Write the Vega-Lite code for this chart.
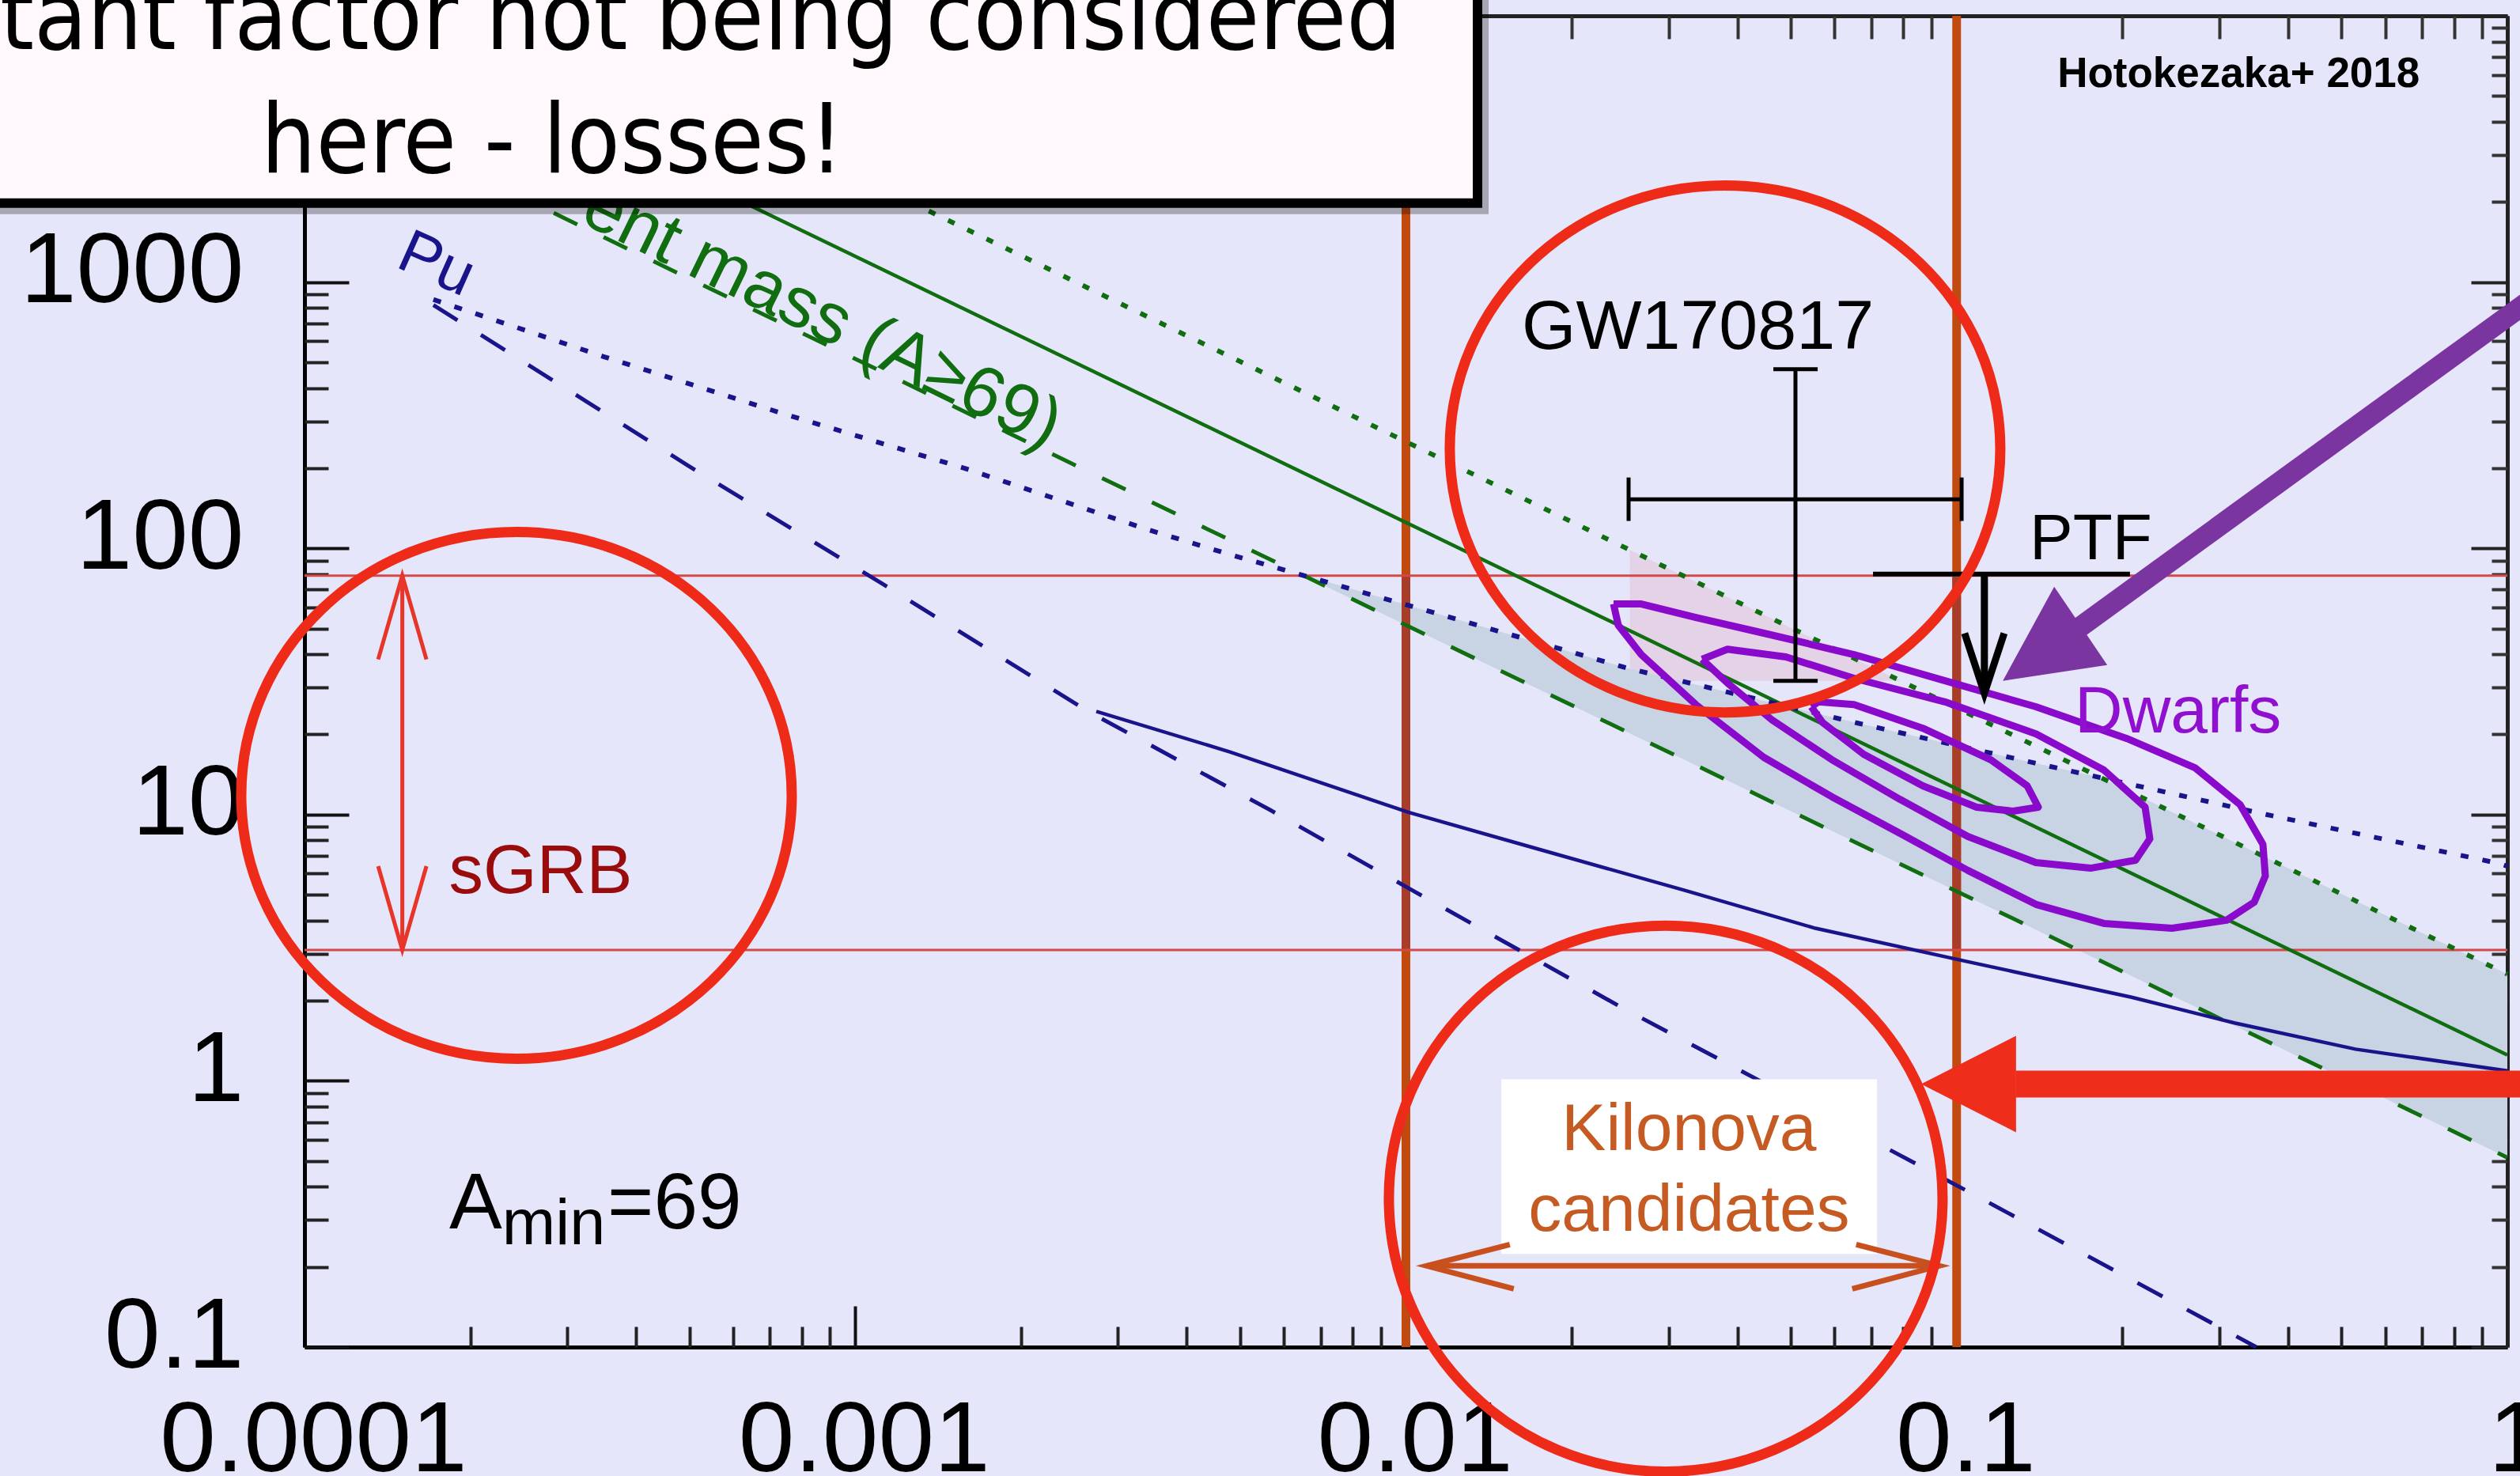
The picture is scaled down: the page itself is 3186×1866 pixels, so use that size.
{
  "$schema": "https://vega.github.io/schema/vega-lite/v6.json",
  "width": 2785,
  "height": 1683,
  "autosize": {"type": "none"},
  "padding": {"left": 385, "top": 20, "right": 16, "bottom": 163},
  "background": "#E6E6FA",
  "config": {"view": {"stroke": null}, "axis": {"grid": false, "title": null}},
  "datasets": {
    "dummy": [{"x": 0.01, "y": 1}],
    "pink": [{"x": 0.0255, "y": 98.6, "y2": 31.8}, {"x": 0.0791, "y": 31.8, "y2": 31.8}],
    "shade": [
      {"x": 0.00641, "y": 80.3, "y2": 80.3},
      {"x": 0.01026, "y": 60.5, "y2": 50.2},
      {"x": 0.02547, "y": 35.3, "y2": 20.2},
      {"x": 0.0664, "y": 22.0, "y2": 7.76},
      {"x": 0.143, "y": 15.4, "y2": 3.6},
      {"x": 0.1824, "y": 13.8, "y2": 2.82},
      {"x": 1, "y": 2.515, "y2": 0.515}
    ],
    "vlines": [{"x": 0.01, "y": 0.1, "y2": 10000}, {"x": 0.1, "y": 0.1, "y2": 10000}],
    "vlinesMid": [{"x": 0.01, "y": 3.1, "y2": 79}, {"x": 0.1, "y": 3.1, "y2": 79}],
    "hlines": [{"x": 0.0001, "x2": 1, "y": 79}, {"x": 0.0001, "x2": 1, "y": 3.1}],
    "gSolid": [{"x": 0.000125, "y": 10000}, {"x": 1, "y": 1.25}],
    "gDot": [{"x": 0.0002515, "y": 10000}, {"x": 1, "y": 2.515}],
    "gDash": [{"x": 0.0001, "y": 5150}, {"x": 1, "y": 0.515}],
    "bDot": [
      {"x": 0.0001714, "y": 860}, {"x": 0.000349, "y": 525}, {"x": 0.000745, "y": 319},
      {"x": 0.00159, "y": 199}, {"x": 0.0034, "y": 117.5}, {"x": 0.004716, "y": 95.7},
      {"x": 0.01026, "y": 60.5}, {"x": 0.02547, "y": 35.3}, {"x": 0.0664, "y": 22.0},
      {"x": 0.143, "y": 15.4}, {"x": 0.365, "y": 10.0}, {"x": 0.964, "y": 6.56}, {"x": 1, "y": 6.4}
    ],
    "bDash": [
      {"x": 0.0001714, "y": 820}, {"x": 0.000497, "y": 204.5}, {"x": 0.001118, "y": 73.8},
      {"x": 0.00264, "y": 24.5}, {"x": 0.00567, "y": 10.4}, {"x": 0.01026, "y": 5.2},
      {"x": 0.0246, "y": 1.89}, {"x": 0.1062, "y": 0.379}, {"x": 0.35, "y": 0.1}
    ],
    "bSolid": [
      {"x": 0.00274, "y": 24.4}, {"x": 0.00479, "y": 17.2}, {"x": 0.0101, "y": 10.2},
      {"x": 0.017, "y": 7.52}, {"x": 0.032, "y": 5.2}, {"x": 0.0554, "y": 3.74},
      {"x": 0.1041, "y": 2.81}, {"x": 0.2078, "y": 2.06}, {"x": 0.3195, "y": 1.65},
      {"x": 0.53, "y": 1.315}, {"x": 1, "y": 1.09}
    ],
    "contours": [
      {"c": "outer", "i": 1, "x": 0.02382, "y": 61.8}, {"c": "outer", "i": 2, "x": 0.02675, "y": 61.8},
      {"c": "outer", "i": 3, "x": 0.0336, "y": 55.0}, {"c": "outer", "i": 4, "x": 0.04466, "y": 48.0},
      {"c": "outer", "i": 5, "x": 0.06512, "y": 39.9}, {"c": "outer", "i": 6, "x": 0.09524, "y": 31.8},
      {"c": "outer", "i": 7, "x": 0.1393, "y": 25.4}, {"c": "outer", "i": 8, "x": 0.2038, "y": 19.3},
      {"c": "outer", "i": 9, "x": 0.2708, "y": 15.0}, {"c": "outer", "i": 10, "x": 0.3271, "y": 10.9},
      {"c": "outer", "i": 11, "x": 0.3599, "y": 7.73}, {"c": "outer", "i": 12, "x": 0.3635, "y": 5.88},
      {"c": "outer", "i": 13, "x": 0.3471, "y": 4.69}, {"c": "outer", "i": 14, "x": 0.3091, "y": 4.01},
      {"c": "outer", "i": 15, "x": 0.246, "y": 3.74}, {"c": "outer", "i": 16, "x": 0.1851, "y": 3.9},
      {"c": "outer", "i": 17, "x": 0.1393, "y": 4.6}, {"c": "outer", "i": 18, "x": 0.1048, "y": 6.17},
      {"c": "outer", "i": 19, "x": 0.0789, "y": 8.5}, {"c": "outer", "i": 20, "x": 0.0594, "y": 11.65},
      {"c": "outer", "i": 21, "x": 0.04466, "y": 16.4}, {"c": "outer", "i": 22, "x": 0.0336, "y": 25.9},
      {"c": "outer", "i": 23, "x": 0.02675, "y": 39.9}, {"c": "outer", "i": 24, "x": 0.0243, "y": 51.4},
      {"c": "outer", "i": 25, "x": 0.02382, "y": 61.8},
      {"c": "middle", "i": 1, "x": 0.0345, "y": 38.3}, {"c": "middle", "i": 2, "x": 0.03836, "y": 41.8},
      {"c": "middle", "i": 3, "x": 0.04898, "y": 39.1}, {"c": "middle", "i": 4, "x": 0.06512, "y": 32.5},
      {"c": "middle", "i": 5, "x": 0.09524, "y": 26.5}, {"c": "middle", "i": 6, "x": 0.1393, "y": 20.1},
      {"c": "middle", "i": 7, "x": 0.1851, "y": 14.7}, {"c": "middle", "i": 8, "x": 0.2199, "y": 10.66},
      {"c": "middle", "i": 9, "x": 0.2243, "y": 8.1}, {"c": "middle", "i": 10, "x": 0.2113, "y": 6.74},
      {"c": "middle", "i": 11, "x": 0.175, "y": 6.29}, {"c": "middle", "i": 12, "x": 0.1393, "y": 6.6},
      {"c": "middle", "i": 13, "x": 0.1048, "y": 8.27}, {"c": "middle", "i": 14, "x": 0.0789, "y": 11.41},
      {"c": "middle", "i": 15, "x": 0.0594, "y": 16.06}, {"c": "middle", "i": 16, "x": 0.0463, "y": 22.6},
      {"c": "middle", "i": 17, "x": 0.03836, "y": 31.2}, {"c": "middle", "i": 18, "x": 0.0345, "y": 38.3},
      {"c": "inner", "i": 1, "x": 0.05446, "y": 25.4}, {"c": "inner", "i": 2, "x": 0.0561, "y": 26.5},
      {"c": "inner", "i": 3, "x": 0.06512, "y": 25.9}, {"c": "inner", "i": 4, "x": 0.08683, "y": 21.1},
      {"c": "inner", "i": 5, "x": 0.1154, "y": 16.06}, {"c": "inner", "i": 6, "x": 0.1343, "y": 12.82},
      {"c": "inner", "i": 7, "x": 0.1407, "y": 10.66}, {"c": "inner", "i": 8, "x": 0.1266, "y": 10.3},
      {"c": "inner", "i": 9, "x": 0.1087, "y": 10.66}, {"c": "inner", "i": 10, "x": 0.08683, "y": 12.82},
      {"c": "inner", "i": 11, "x": 0.06777, "y": 16.85}, {"c": "inner", "i": 12, "x": 0.05705, "y": 22.2},
      {"c": "inner", "i": 13, "x": 0.05446, "y": 25.4}
    ],
    "gwBars": [
      {"x": 0.05097, "x2": 0.05097, "y": 31.8, "y2": 471},
      {"x": 0.02537, "x2": 0.1021, "y": 152.8, "y2": 152.8},
      {"x": 0.04647, "x2": 0.05593, "y": 471, "y2": 471},
      {"x": 0.04647, "x2": 0.05593, "y": 31.8, "y2": 31.8},
      {"x": 0.02537, "x2": 0.02537, "y": 126.7, "y2": 184.5},
      {"x": 0.1021, "x2": 0.1021, "y": 126.7, "y2": 184.5}
    ],
    "ptfBar": [{"x": 0.0705, "x2": 0.2064, "y": 80.1, "y2": 80.1}],
    "ptfStem": [{"x": 0.1123, "x2": 0.1123, "y": 80.1, "y2": 28.5}],
    "ptfHead": [{"x": 0.1123, "y": 28.5}],
    "sgrbStem": [{"x": 0.0001505, "x2": 0.0001505, "y": 3.1, "y2": 79}],
    "sgrbTop": [{"x": 0.0001505, "y": 79}],
    "sgrbBot": [{"x": 0.0001505, "y": 3.1}],
    "kBox": [{"x": 0.0149, "x2": 0.0717, "y": 0.2237, "y2": 1.0138}],
    "kStem": [{"x": 0.01091, "x2": 0.093, "y": 0.2018, "y2": 0.2018}],
    "kLeft": [{"x": 0.01091, "y": 0.2018}],
    "kRight": [{"x": 0.093, "y": 0.2018}],
    "kText": [{"x": 0.03267, "y": 0.5478, "t": "Kilonova"}, {"x": 0.03267, "y": 0.2727, "t": "candidates"}],
    "tGW": [{"x": 0.01623, "y": 562.6, "t": "GW170817"}],
    "tPTF": [{"x": 0.1357, "y": 91.3, "t": "PTF"}],
    "tDwarfs": [{"x": 0.1638, "y": 20.4, "t": "Dwarfs"}],
    "tSGRB": [{"x": 0.0001829, "y": 5.09, "t": "sGRB"}],
    "tPu": [{"x": 0.0001456, "y": 1146, "t": "Pu"}],
    "tMass": [{"x": 0.0003141, "y": 1692, "t": "ent mass (A≥69)"}],
    "tHoto": [{"x": 0.1524, "y": 5410, "t": "Hotokezaka+ 2018"}],
    "tA": [{"x": 0.0001832, "y": 0.2784, "t": "A"}, {"x": 0.0003549, "y": 0.2784, "t": "=69"}],
    "tMin": [{"x": 0.0002285, "y": 0.2427, "t": "min"}],
    "ellA": [{"x": 0.0002426, "y": 11.81}, {"x": 0.03797, "y": 236.1}],
    "ellB": [{"x": 0.02963, "y": 0.361}],
    "purpleShaft": [{"x": 0.1677, "x2": 1.22, "y": 50.7, "y2": 1000}],
    "purpleHead": [{"x": 0.1213, "y": 31.8}],
    "redShaft": [{"x": 0.128, "x2": 1.2, "y": 0.973, "y2": 0.973}],
    "redHead": [{"x": 0.0862, "y": 0.973}],
    "boxShadow": [{"x": 0.00001, "x2": 0.01413, "y": 1799, "y2": 50000}],
    "box": [{"x": 0.00001, "x2": 0.01349, "y": 1980, "y2": 50000}],
    "boxL1": [{"x": 0.00982, "y": 7513, "t": "tant factor not being considered"}],
    "boxL2": [{"x": 0.00008335, "y": 2585, "t": "here - losses!"}]
  },
  "encoding": {
    "x": {"field": "x", "type": "quantitative", "scale": {"type": "log", "domain": [0.0001, 1], "nice": false}, "axis": null},
    "y": {"field": "y", "type": "quantitative", "scale": {"type": "log", "domain": [0.1, 10000], "nice": false}, "axis": null}
  },
  "resolve": {"axis": {"x": "independent", "y": "independent"}},
  "layer": [
    {
      "data": {"name": "dummy"},
      "mark": {"type": "point", "opacity": 0},
      "encoding": {
        "x": {"field": "x", "type": "quantitative", "scale": {"type": "log", "domain": [0.0001, 1], "nice": false},
          "axis": {"orient": "bottom", "values": [0.0001, 0.001, 0.01, 0.1, 1], "format": "~g", "ticks": false, "domain": true, "domainColor": "#000000", "domainWidth": 5, "labelFont": "Liberation Sans", "labelFontSize": 127, "labelColor": "#000000", "labelPadding": 56, "labelOffset": 11, "labelFlush": false, "labelOverlap": false, "labelLimit": 2000, "labelBaseline": "top", "labelAlign": "center", "grid": false, "title": null}},
        "y": {"field": "y", "type": "quantitative", "scale": {"type": "log", "domain": [0.1, 10000], "nice": false},
          "axis": {"orient": "left", "values": [0.1, 1, 10, 100, 1000], "format": "~g", "ticks": false, "domain": true, "domainColor": "#000000", "domainWidth": 5, "labelFont": "Liberation Sans", "labelFontSize": 127, "labelColor": "#000000", "labelPadding": 77, "labelOffset": -13, "labelFlush": false, "labelOverlap": false, "labelLimit": 2000, "labelBaseline": "middle", "labelAlign": "right", "grid": false, "title": null}}
      }
    },
    {
      "data": {"name": "dummy"},
      "mark": {"type": "point", "opacity": 0},
      "encoding": {
        "x": {"field": "x", "type": "quantitative", "scale": {"type": "log", "domain": [0.0001, 1], "nice": false},
          "axis": {"orient": "bottom", "values": [0.0001, 0.001, 0.01, 0.1, 1], "labels": false, "domain": false, "ticks": true, "tickSize": -52, "tickWidth": 4, "tickColor": "#111111", "grid": false, "title": null}},
        "y": {"field": "y", "type": "quantitative", "scale": {"type": "log", "domain": [0.1, 10000], "nice": false},
          "axis": {"orient": "left", "values": [0.1, 1, 10, 100, 1000, 10000], "labels": false, "domain": false, "ticks": true, "tickSize": -56, "tickWidth": 4, "tickColor": "#111111", "grid": false, "title": null}}
      }
    },
    {
      "data": {"name": "dummy"},
      "mark": {"type": "point", "opacity": 0},
      "encoding": {
        "x": {"field": "x", "type": "quantitative", "scale": {"type": "log", "domain": [0.0001, 1], "nice": false},
          "axis": {"orient": "bottom", "values": [0.0002, 0.0003, 0.0004, 0.0005, 0.0006, 0.0007, 0.0008, 0.0009, 0.002, 0.003, 0.004, 0.005, 0.006, 0.007, 0.008, 0.009, 0.02, 0.03, 0.04, 0.05, 0.06, 0.07, 0.08, 0.09, 0.2, 0.3, 0.4, 0.5, 0.6, 0.7, 0.8, 0.9], "labels": false, "domain": false, "ticks": true, "tickSize": -26, "tickWidth": 4, "tickColor": "#222222", "grid": false, "title": null}},
        "y": {"field": "y", "type": "quantitative", "scale": {"type": "log", "domain": [0.1, 10000], "nice": false},
          "axis": {"orient": "left", "values": [0.2, 0.3, 0.4, 0.5, 0.6, 0.7, 0.8, 0.9, 2, 3, 4, 5, 6, 7, 8, 9, 20, 30, 40, 50, 60, 70, 80, 90, 200, 300, 400, 500, 600, 700, 800, 900, 2000, 3000, 4000, 5000, 6000, 7000, 8000, 9000], "labels": false, "domain": false, "ticks": true, "tickSize": -30, "tickWidth": 4, "tickColor": "#222222", "grid": false, "title": null}}
      }
    },
    {
      "data": {"name": "dummy"},
      "mark": {"type": "point", "opacity": 0},
      "encoding": {
        "x": {"field": "x", "type": "quantitative", "scale": {"type": "log", "domain": [0.0001, 1], "nice": false},
          "axis": {"orient": "top", "values": [0.0001, 0.001, 0.01, 0.1, 1], "labels": false, "domain": true, "domainColor": "#222222", "domainWidth": 5, "ticks": true, "tickSize": -52, "tickWidth": 4, "tickColor": "#222222", "grid": false, "title": null}},
        "y": {"field": "y", "type": "quantitative", "scale": {"type": "log", "domain": [0.1, 10000], "nice": false},
          "axis": {"orient": "right", "values": [0.1, 1, 10, 100, 1000, 10000], "labels": false, "domain": true, "domainColor": "#222222", "domainWidth": 5, "ticks": true, "tickSize": -46, "tickWidth": 4, "tickColor": "#222222", "grid": false, "title": null}}
      }
    },
    {
      "data": {"name": "dummy"},
      "mark": {"type": "point", "opacity": 0},
      "encoding": {
        "x": {"field": "x", "type": "quantitative", "scale": {"type": "log", "domain": [0.0001, 1], "nice": false},
          "axis": {"orient": "top", "values": [0.0002, 0.0003, 0.0004, 0.0005, 0.0006, 0.0007, 0.0008, 0.0009, 0.002, 0.003, 0.004, 0.005, 0.006, 0.007, 0.008, 0.009, 0.02, 0.03, 0.04, 0.05, 0.06, 0.07, 0.08, 0.09, 0.2, 0.3, 0.4, 0.5, 0.6, 0.7, 0.8, 0.9], "labels": false, "domain": false, "ticks": true, "tickSize": -29, "tickWidth": 4, "tickColor": "#333333", "grid": false, "title": null}},
        "y": {"field": "y", "type": "quantitative", "scale": {"type": "log", "domain": [0.1, 10000], "nice": false},
          "axis": {"orient": "right", "values": [0.2, 0.3, 0.4, 0.5, 0.6, 0.7, 0.8, 0.9, 2, 3, 4, 5, 6, 7, 8, 9, 20, 30, 40, 50, 60, 70, 80, 90, 200, 300, 400, 500, 600, 700, 800, 900, 2000, 3000, 4000, 5000, 6000, 7000, 8000, 9000], "labels": false, "domain": false, "ticks": true, "tickSize": -20, "tickWidth": 4, "tickColor": "#333333", "grid": false, "title": null}}
      }
    },
    {"data": {"name": "pink"}, "mark": {"type": "area", "color": "#E4D2E6", "opacity": 1}, "encoding": {"y2": {"field": "y2"}}},
    {"data": {"name": "shade"}, "mark": {"type": "area", "color": "#C8D4E3", "opacity": 1}, "encoding": {"y2": {"field": "y2"}}},
    {"data": {"name": "vlines"}, "mark": {"type": "rule", "color": "#C04A10", "strokeWidth": 11}, "encoding": {"y2": {"field": "y2"}}},
    {"data": {"name": "vlinesMid"}, "mark": {"type": "rule", "color": "#A83E2A", "strokeWidth": 11}, "encoding": {"y2": {"field": "y2"}}},
    {"data": {"name": "hlines"}, "mark": {"type": "rule", "color": "#D44848", "strokeWidth": 3}, "encoding": {"x2": {"field": "x2"}}},
    {"data": {"name": "gSolid"}, "mark": {"type": "line", "color": "#106E10", "strokeWidth": 4.5}},
    {"data": {"name": "gDot"}, "mark": {"type": "line", "color": "#106E10", "strokeWidth": 6, "strokeDash": [9, 18]}},
    {"data": {"name": "gDash"}, "mark": {"type": "line", "color": "#106E10", "strokeWidth": 5, "strokeDash": [33, 37]}},
    {"data": {"name": "bDot"}, "mark": {"type": "line", "color": "#19148C", "strokeWidth": 6, "strokeDash": [10, 18]}},
    {"data": {"name": "bDash"}, "mark": {"type": "line", "color": "#19148C", "strokeWidth": 5, "strokeDash": [36, 35]}},
    {"data": {"name": "bSolid"}, "mark": {"type": "line", "color": "#19148C", "strokeWidth": 4.5}},
    {"data": {"name": "contours"}, "mark": {"type": "line", "color": "#8A0ACC", "strokeWidth": 9, "strokeJoin": "round"}, "encoding": {"order": {"field": "i", "type": "quantitative"}, "detail": {"field": "c", "type": "nominal"}}},
    {"data": {"name": "gwBars"}, "mark": {"type": "rule", "color": "#000000", "strokeWidth": 5}, "encoding": {"x2": {"field": "x2"}, "y2": {"field": "y2"}}},
    {"data": {"name": "ptfBar"}, "mark": {"type": "rule", "color": "#000000", "strokeWidth": 6}, "encoding": {"x2": {"field": "x2"}, "y2": {"field": "y2"}}},
    {"data": {"name": "ptfStem"}, "mark": {"type": "rule", "color": "#000000", "strokeWidth": 9}, "encoding": {"x2": {"field": "x2"}, "y2": {"field": "y2"}}},
    {"data": {"name": "ptfHead"}, "mark": {"type": "point", "shape": "M-0.25,-0.76L0,0L0.25,-0.76", "size": 40000, "filled": false, "stroke": "#000000", "strokeWidth": 9, "opacity": 1}},
    {"data": {"name": "sgrbStem"}, "mark": {"type": "rule", "color": "#E8352A", "strokeWidth": 5}, "encoding": {"x2": {"field": "x2"}, "y2": {"field": "y2"}}},
    {"data": {"name": "sgrbTop"}, "mark": {"type": "point", "shape": "M-0.305,1.06L0,0L0.305,1.06", "size": 40000, "filled": false, "stroke": "#E8352A", "strokeWidth": 5, "opacity": 1}},
    {"data": {"name": "sgrbBot"}, "mark": {"type": "point", "shape": "M-0.305,-1.06L0,0L0.305,-1.06", "size": 40000, "filled": false, "stroke": "#E8352A", "strokeWidth": 5, "opacity": 1}},
    {"data": {"name": "kBox"}, "mark": {"type": "rect", "color": "#FFFFFF"}, "encoding": {"x2": {"field": "x2"}, "y2": {"field": "y2"}}},
    {"data": {"name": "kStem"}, "mark": {"type": "rule", "color": "#C8501E", "strokeWidth": 7}, "encoding": {"x2": {"field": "x2"}, "y2": {"field": "y2"}}},
    {"data": {"name": "kLeft"}, "mark": {"type": "point", "shape": "M1.05,-0.27L0,0L1.1,0.29", "size": 40000, "filled": false, "stroke": "#C8501E", "strokeWidth": 7, "opacity": 1}},
    {"data": {"name": "kRight"}, "mark": {"type": "point", "shape": "M-1.05,-0.27L0,0L-1.1,0.29", "size": 40000, "filled": false, "stroke": "#C8501E", "strokeWidth": 7, "opacity": 1}},
    {"data": {"name": "kText"}, "mark": {"type": "text", "font": "Liberation Sans", "fontSize": 84, "color": "#C55A22", "align": "center", "baseline": "alphabetic"}, "encoding": {"text": {"field": "t"}}},
    {"data": {"name": "tGW"}, "mark": {"type": "text", "font": "Liberation Sans", "fontSize": 88, "color": "#000000", "align": "left", "baseline": "alphabetic"}, "encoding": {"text": {"field": "t"}}},
    {"data": {"name": "tPTF"}, "mark": {"type": "text", "font": "Liberation Sans", "fontSize": 82, "color": "#000000", "align": "left", "baseline": "alphabetic"}, "encoding": {"text": {"field": "t"}}},
    {"data": {"name": "tDwarfs"}, "mark": {"type": "text", "font": "Liberation Sans", "fontSize": 84, "color": "#9010D0", "align": "left", "baseline": "alphabetic"}, "encoding": {"text": {"field": "t"}}},
    {"data": {"name": "tSGRB"}, "mark": {"type": "text", "font": "Liberation Sans", "fontSize": 87, "color": "#9A0C0C", "align": "left", "baseline": "alphabetic"}, "encoding": {"text": {"field": "t"}}},
    {"data": {"name": "tPu"}, "mark": {"type": "text", "font": "Liberation Sans", "fontSize": 78, "color": "#19148C", "align": "left", "baseline": "alphabetic", "angle": 24}, "encoding": {"text": {"field": "t"}}},
    {"data": {"name": "tMass"}, "mark": {"type": "text", "font": "Liberation Sans", "fontSize": 90, "color": "#106E10", "align": "left", "baseline": "alphabetic", "angle": 26}, "encoding": {"text": {"field": "t"}}},
    {"data": {"name": "tHoto"}, "mark": {"type": "text", "font": "Liberation Sans", "fontSize": 53, "fontWeight": "bold", "color": "#000000", "align": "left", "baseline": "alphabetic"}, "encoding": {"text": {"field": "t"}}},
    {"data": {"name": "tA"}, "mark": {"type": "text", "font": "Liberation Sans", "fontSize": 100, "color": "#000000", "align": "left", "baseline": "alphabetic"}, "encoding": {"text": {"field": "t"}}},
    {"data": {"name": "tMin"}, "mark": {"type": "text", "font": "Liberation Sans", "fontSize": 81, "color": "#000000", "align": "left", "baseline": "alphabetic"}, "encoding": {"text": {"field": "t"}}},
    {"data": {"name": "ellA"}, "mark": {"type": "point", "shape": "M-1,0A1,0.957,0,1,0,1,0A1,0.957,0,1,0,-1,0Z", "size": 484416, "filled": false, "stroke": "#EE2A18", "strokeWidth": 13, "opacity": 1}},
    {"data": {"name": "ellB"}, "mark": {"type": "point", "shape": "M-1,0A1,0.986,0,1,0,1,0A1,0.986,0,1,0,-1,0Z", "size": 490000, "filled": false, "stroke": "#EE2A18", "strokeWidth": 13, "opacity": 1}},
    {"data": {"name": "purpleShaft"}, "mark": {"type": "rule", "color": "#7B35A0", "strokeWidth": 26}, "encoding": {"x2": {"field": "x2"}, "y2": {"field": "y2"}}},
    {"data": {"name": "purpleHead"}, "mark": {"type": "point", "shape": "M0,0L0.65,-1.19L1.32,-0.2Z", "size": 40000, "filled": true, "color": "#7B35A0", "strokeWidth": 0, "opacity": 1}},
    {"data": {"name": "redShaft"}, "mark": {"type": "rule", "color": "#EE2D1B", "strokeWidth": 34}, "encoding": {"x2": {"field": "x2"}, "y2": {"field": "y2"}}},
    {"data": {"name": "redHead"}, "mark": {"type": "point", "shape": "M0,0L1.2,-0.61L1.2,0.61Z", "size": 40000, "filled": true, "color": "#EE2D1B", "strokeWidth": 0, "opacity": 1}},
    {"data": {"name": "boxShadow"}, "mark": {"type": "rect", "color": "#000000", "opacity": 0.28}, "encoding": {"x2": {"field": "x2"}, "y2": {"field": "y2"}}},
    {"data": {"name": "box"}, "mark": {"type": "rect", "fill": "#FFF8FC", "stroke": "#000000", "strokeWidth": 12, "opacity": 1}, "encoding": {"x2": {"field": "x2"}, "y2": {"field": "y2"}}},
    {"data": {"name": "boxL1"}, "mark": {"type": "text", "font": "DejaVu Sans Condensed", "fontSize": 122, "color": "#000000", "align": "right", "baseline": "alphabetic"}, "encoding": {"text": {"field": "t"}}},
    {"data": {"name": "boxL2"}, "mark": {"type": "text", "font": "DejaVu Sans Condensed", "fontSize": 122, "color": "#000000", "align": "left", "baseline": "alphabetic"}, "encoding": {"text": {"field": "t"}}}
  ]
}
